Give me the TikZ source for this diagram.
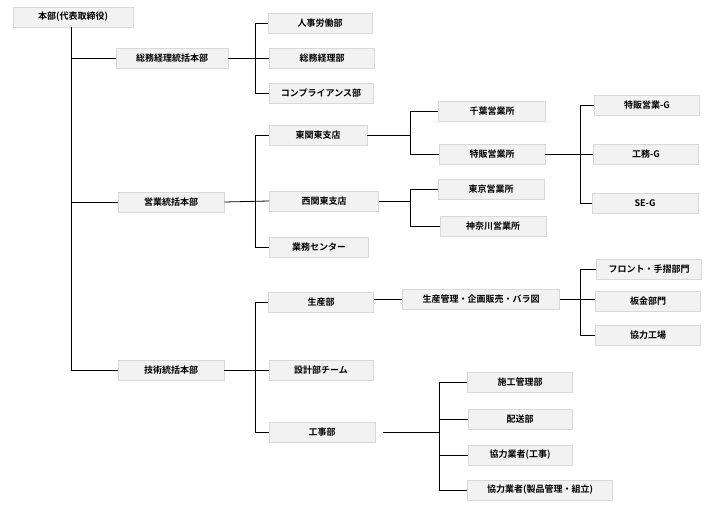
\documentclass[tikz,border=0pt]{standalone}
\usepackage{fontspec}
\setmainfont{Noto Sans CJK JP}[BoldFont={* Bold}]
\usepackage{tikz}
\usetikzlibrary{calc}

\definecolor{boxfill}{HTML}{F2F2F2}
\definecolor{boxline}{HTML}{D9D9D9}

\begin{document}
\begin{tikzpicture}[
		x=1pt, y=-1pt,
		unit/.style={
			draw=boxline,
			fill=boxfill,
			line width=0.8pt,
			minimum height=20pt,
			inner sep=1pt,
			font=\fontsize{9}{10}\selectfont\bfseries
			},
		link/.style={
			line width=0.8pt,
			color=black
			}
		]
		\useasboundingbox (0,0) rectangle (709,516);
		
		% level 0 and 1
		\node[unit, minimum width=120pt] (hq) at (73,17) {本部(代表取締役)};
		\node[unit, minimum width=112pt] (soumu) at (172,58) {総務経理統括本部};
		\node[unit, minimum width=106pt] (eigyo) at (171,202) {営業統括本部};
		\node[unit, minimum width=106pt] (gijutsu) at (171,370) {技術統括本部};
		
		% level 2
		\node[unit, minimum width=104pt] (jinji) at (320,23) {人事労働部};
		\node[unit, minimum width=105pt] (keiri) at (322,58) {総務経理部};
		\node[unit, minimum width=104pt] (comp) at (321,93) {コンプライアンス部};
		\node[unit, minimum width=98pt] (higashi) at (318,135) {東関東支店};
		\node[unit, minimum width=109pt] (nishi) at (324,201) {西関東支店};
		\node[unit, minimum width=99pt] (gyomu) at (319,247) {業務センター};
		\node[unit, minimum width=105pt] (seisan) at (321,302) {生産部};
		\node[unit, minimum width=104pt] (sekkei) at (321,370) {設計部チーム};
		\node[unit, minimum width=106pt] (kouji) at (322,432) {工事部};
		
		% level 3
		\node[unit, minimum width=107pt] (chiba) at (492,111) {千葉営業所};
		\node[unit, minimum width=106pt] (tokuhan) at (492,154) {特販営業所};
		\node[unit, minimum width=106pt] (tokyo) at (491,189) {東京営業所};
		\node[unit, minimum width=106pt] (kanagawa) at (493,226) {神奈川営業所};
		\node[unit, minimum width=157pt] (kanri) at (481,299) {生産管理・企画販売・バラ図};
		\node[unit, minimum width=105pt] (sekou) at (520,382) {施工管理部};
		\node[unit, minimum width=104pt] (haisou) at (520,419) {配送部};
		\node[unit, minimum width=104pt] (kyoryoku) at (520,455) {協力業者(工事)};
		\node[unit, minimum width=145pt] (kumitate) at (540,490) {協力業者(製品管理・組立)};
		
		% level 4
		\node[unit, minimum width=105pt] (tg) at (647,105) {特販営業-G};
		\node[unit, minimum width=105pt] (kg) at (646,154) {工務-G};
		\node[unit, minimum width=106pt] (seg) at (645,203) {SE-G};
		\node[unit, minimum width=105pt] (front) at (649,269) {フロント・手摺部門};
		\node[unit, minimum width=105pt] (bankin) at (648,301) {板金部門};
		\node[unit, minimum width=105pt] (kojo) at (648,335) {協力工場};
		
		% bus lines
		\coordinate (b0) at (71,0);
		\coordinate (b1) at (255,0);
		\coordinate (b2) at (410,0);
		\coordinate (b3) at (580,0);
		\coordinate (b4) at (439,0);
		
		\draw[link] (hq.south -| b0) |- (gijutsu.west);
		\draw[link] (b0 |- soumu) -- (soumu.west);
		\draw[link] (b0 |- eigyo) -- (eigyo.west);
		
		\draw[link] (soumu.east) -- (keiri.west);
		\draw[link] (jinji.west) -| (b1 |- comp) -- (comp.west);
		
		\draw[link] (eigyo.east) -- (nishi.west);
		\draw[link] (higashi.west) -| (b1 |- gyomu) -- (gyomu.west);
		
		\draw[link] (gijutsu.east) -- (sekkei.west);
		\draw[link] (seisan.west) -| (b1 |- kouji) -- (kouji.west);
		
		\draw[link] (higashi.east) -- (b2 |- higashi);
		\draw[link] (chiba.west) -| (b2 |- tokuhan) -- (tokuhan.west);
		\draw[link] (nishi.east) -- (b2 |- nishi);
		\draw[link] (tokyo.west) -| (b2 |- kanagawa) -- (kanagawa.west);
		
		\draw[link] (tokuhan.east) -- (kg.west);
		\draw[link] (tg.west) -| (b3 |- seg) -- (seg.west);
		
		\draw[link] (seisan.east |- kanri) -- (kanri.west);
		\draw[link] (kanri.east) -- (bankin.west |- kanri);
		\draw[link] (front.west) -| (b3 |- kojo) -- (kojo.west);
		
		\draw[link] ($(kouji.east)+(8,0)$) -- (b4 |- kouji);
		\draw[link] (sekou.west) -| (b4 |- kumitate) -- (kumitate.west);
		\draw[link] (b4 |- haisou) -- (haisou.west);
		\draw[link] (b4 |- kyoryoku) -- (kyoryoku.west);
	\end{tikzpicture}
\end{document}
